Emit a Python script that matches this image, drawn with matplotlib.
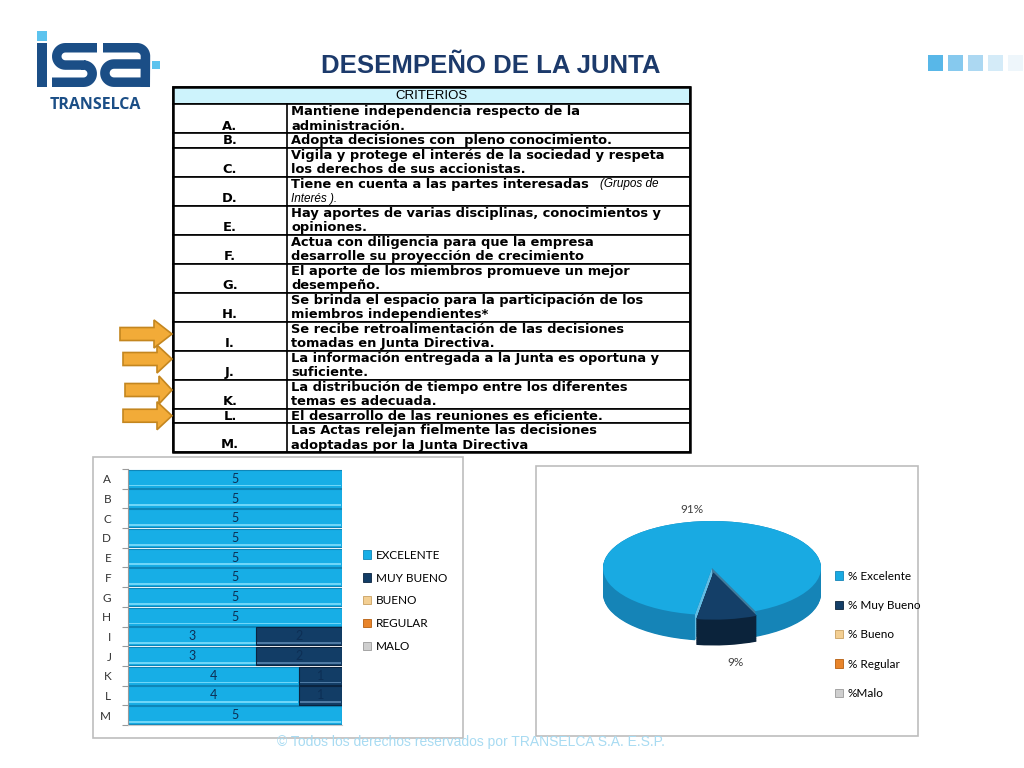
import numpy as np
import matplotlib
matplotlib.use("Agg")
import matplotlib.pyplot as plt
from matplotlib.patches import Rectangle, Polygon, Patch
from matplotlib.lines import Line2D

# ---------------- data ----------------
title = "DESEMPEÑO DE LA JUNTA"
table_header = "CRITERIOS"
row_letters = ["A.", "B.", "C.", "D.", "E.", "F.", "G.", "H.", "I.", "J.", "K.", "L.", "M."]
row_lines = [
    ["Mantiene independencia respecto de la", "administración."],
    ["Adopta decisiones con  pleno conocimiento."],
    ["Vigila y protege el interés de la sociedad y respeta", "los derechos de sus accionistas."],
    ["Tiene en cuenta a las partes interesadas", "Interés )."],
    ["Hay aportes de varias disciplinas, conocimientos y", "opiniones."],
    ["Actua con diligencia para que la empresa", "desarrolle su proyección de crecimiento"],
    ["El aporte de los miembros promueve un mejor", "desempeño."],
    ["Se brinda el espacio para la participación de los", "miembros independientes*"],
    ["Se recibe retroalimentación de las decisiones", "tomadas en Junta Directiva."],
    ["La información entregada a la Junta es oportuna y", "suficiente."],
    ["La distribución de tiempo entre los diferentes", "temas es adecuada."],
    ["El desarrollo de las reuniones es eficiente."],
    ["Las Actas relejan fielmente las decisiones", "adoptadas por la Junta Directiva"],
]
row_d_italic = "(Grupos de"
arrow_rows = ["I.", "J.", "K.", "L."]

categories = ["A", "B", "C", "D", "E", "F", "G", "H", "I", "J", "K", "L", "M"]
excelente = [5, 5, 5, 5, 5, 5, 5, 5, 3, 3, 4, 4, 5]
muy_bueno = [0, 0, 0, 0, 0, 0, 0, 0, 2, 2, 1, 1, 0]
bueno = [0] * 13
regular = [0] * 13
malo = [0] * 13
bar_series_names = ["EXCELENTE", "MUY BUENO", "BUENO", "REGULAR", "MALO"]

pie_labels = ["% Excelente", "% Muy Bueno", "% Bueno", "% Regular", "%Malo"]
pie_values = [91, 9, 0, 0, 0]

footer = "© Todos los derechos reservados por TRANSELCA S.A. E.S.P."

# ---------------- styles ----------------
W, H = 1024, 768
C_EXC = "#17aee6"
C_MB = "#123d66"
C_BUE = "#f3cf93"
C_REG = "#e8842a"
C_MAL = "#cfcfcf"
bar_colors = [C_EXC, C_MB, C_BUE, C_REG, C_MAL]
bar_edges = ["#0e86b8", "#0a2440", "#c9a060", "#b55e10", "#9a9a9a"]
bar_hl = ["#6fd6f8", "#4f7aa3", "#f8e4c0", "#f2b070", "#e8e8e8"]
pie_top = ["#19aae2", "#143f68", C_BUE, C_REG, C_MAL]
pie_side = ["#1584b7", "#0b233b", "#c9a060", "#b55e10", "#9a9a9a"]
NAVY = "#1c3a6b"
LOGO = "#1b4e86"
LOGO_LIGHT = "#5cc3ee"


def px_box(l, t, r, b):
    return [l / W, 1 - b / H, (r - l) / W, (b - t) / H]


fig = plt.figure(figsize=(W / 100, H / 100), dpi=100)
fig.patch.set_facecolor("white")

bg = fig.add_axes([0, 0, 1, 1])
bg.set_xlim(0, W)
bg.set_ylim(H, 0)
bg.axis("off")

# ---------------- logo ----------------
lw_logo = 9.5 * 0.72
bg.add_patch(Rectangle((37, 31), 9.5, 9.5, color=LOGO_LIGHT, lw=0))
bg.add_patch(Rectangle((37, 43), 10, 44, color=LOGO, lw=0))
bg.add_patch(Rectangle((152, 61), 8, 8, color=LOGO_LIGHT, lw=0))


def arc(cx, cy, r, a0, a1, n=20):
    t = np.radians(np.linspace(a0, a1, n))
    return list(zip(cx + r * np.cos(t), cy - r * np.sin(t)))


s_path = [(97, 47.75), (65.4, 47.75)] + arc(65.4, 56.4, 8.65, 90, 270) + [(83.6, 65.05)] \
    + arc(83.6, 73.65, 8.6, 90, -90) + [(52, 82.25)]
a_path1 = [(103, 47.75), (137, 47.75)] + arc(137, 56.2, 8.45, 90, 0) + [(145.25, 87)]
a_path2 = [(145.25, 64.0), (114, 64.0)] + arc(114, 73.1, 9.1, 90, 270) + [(145.25, 82.2)]
for p in (s_path, a_path1, a_path2):
    xs, ys = zip(*p)
    bg.add_line(Line2D(xs, ys, color=LOGO, lw=lw_logo, solid_capstyle="butt", solid_joinstyle="round"))
bg.text(95, 105, "TRANSELCA", ha="center", va="center", fontsize=11.5, fontweight="bold",
        family="Open Sans", color=LOGO)

# ---------------- title ----------------
bg.text(491, 66, title, ha="center", va="center", fontsize=18.5, fontweight="bold",
        family="Liberation Sans", color=NAVY)

# decorative squares top right
sq_cols = ["#58b7e8", "#86c9ee", "#acd8f2", "#d4ebf8", "#eef6fb"]
for i, c in enumerate(sq_cols):
    bg.add_patch(Rectangle((928 + i * 20, 55), 15, 16, color=c, lw=0))

# ---------------- table ----------------
TL, TR, TDIV = 173, 690, 287
top = 87
hdr_h = 17
FS = 9.4
bg.add_patch(Rectangle((TL, top), TR - TL, hdr_h, facecolor="#cdf3fc", edgecolor="black", lw=1.2))
bg.text((TL + TR) / 2, top + hdr_h / 2 + 0.5, table_header, ha="center", va="center",
        fontsize=9.5, family="Liberation Sans", color="black")
y0 = top + hdr_h
row_y = {}
tfont = dict(family="DejaVu Sans", fontweight="bold", fontsize=FS, color="black")
renderer = fig.canvas.get_renderer()
for letter, lines in zip(row_letters, row_lines):
    h = 14.5 * len(lines)
    bg.add_patch(Rectangle((TL, y0), TR - TL, h, facecolor="white", edgecolor="black", lw=1.2))
    bg.plot([TDIV, TDIV], [y0, y0 + h], color="black", lw=1.2)
    for k, ln in enumerate(lines):
        yy = y0 + 7.8 + 14.5 * k
        if letter == "D." and k == 1:
            bg.text(291, yy, ln, ha="left", va="center", fontsize=8.5, style="italic",
                    family="Liberation Sans", color="black")
        else:
            t = bg.text(291, yy, ln, ha="left", va="center", **tfont)
            if letter == "D." and k == 0:
                bb = t.get_window_extent(renderer=renderer)
                bg.text(bb.x1 + 11, yy, row_d_italic, ha="left", va="center", fontsize=8.5,
                        style="italic", family="Liberation Sans", color="black")
    bg.text(230, y0 + h - 7.0, letter, ha="center", va="center", **tfont)
    row_y[letter] = (y0, y0 + h)
    y0 += h
bg.add_patch(Rectangle((TL, top), TR - TL, y0 - top, facecolor="none", edgecolor="black", lw=1.8))

# arrows
arrow_x = {"I.": 120, "J.": 123, "K.": 125, "L.": 123}
arrow_dy = {"I.": -2, "J.": -6, "K.": -4, "L.": 0}
for r in arrow_rows:
    a, b = row_y[r]
    cy = (a + b) / 2 + arrow_dy[r]
    x0 = arrow_x[r]
    pts = [(x0, cy - 6.5), (x0 + 34, cy - 6.5), (x0 + 34, cy - 14), (172, cy),
           (x0 + 34, cy + 14), (x0 + 34, cy + 6.5), (x0, cy + 6.5)]
    bg.add_patch(Polygon(pts, closed=True, facecolor="#f2ab38", edgecolor="#c4861f", lw=1.2))

# chart boxes
bg.add_patch(Rectangle((93, 457), 370, 281, facecolor="white", edgecolor="#bdbdbd", lw=1.2))
bg.add_patch(Rectangle((536, 466), 382, 270, facecolor="white", edgecolor="#bdbdbd", lw=1.2))

# footer
bg.text(471, 742, footer, ha="center", va="center", fontsize=10, family="Liberation Sans",
        color="#a8dbf2")

# ---------------- bar chart ----------------
axb = fig.add_axes(px_box(128, 469, 342, 725))
series = [excelente, muy_bueno, bueno, regular, malo]
yv = np.arange(len(categories))
left = np.zeros(len(categories))
for vals, col, ec, hl in zip(series, bar_colors, bar_edges, bar_hl):
    v = np.array(vals, dtype=float)
    m = v > 0
    if m.any():
        bars = axb.barh(yv[m], v[m], left=left[m], height=0.92, color=col, edgecolor=ec, lw=0.8)
        axb.barh(yv[m] + 0.34, v[m] - 0.04, left=left[m] + 0.02, height=0.09, color=hl, lw=0)
        axb.bar_label(bars, labels=[str(int(x)) for x in v[m]], label_type="center",
                      fontsize=9, family="Lato", color="#0d2f55")
    left = left + v
axb.set_xlim(0, 5)
axb.set_ylim(len(categories) - 0.5, -0.5)
axb.set_yticks(yv)
axb.set_yticklabels(categories, family="Lato", fontsize=8.5, color="#333333")
axb.set_yticks(np.arange(len(categories) + 1) - 0.5, minor=True)
axb.tick_params(axis="y", which="major", length=0, pad=12)
axb.tick_params(axis="y", which="minor", length=4, color="#9a9a9a", width=0.8)
axb.set_xticks([])
for s in ("top", "right"):
    axb.spines[s].set_visible(False)
axb.spines["left"].set_color("#9a9a9a")
axb.spines["bottom"].set_color("#c8c8c8")
axb.patch.set_alpha(0)

handles = [Patch(facecolor=c, edgecolor=e, lw=0.6) for c, e in zip(bar_colors, bar_edges)]
fig.legend(handles, bar_series_names, loc="upper left", bbox_to_anchor=(358 / W, 1 - 545 / H),
           frameon=False, prop=dict(family="Lato", size=8.5), handlelength=0.7, handleheight=0.7,
           handletextpad=0.4, labelspacing=1.0, borderaxespad=0)

# ---------------- pie chart ----------------
CX, CY, RX, RY = 712, 568, 109, 47
xl = (-1.2, 1.2)
yl = (-2.25, 1.45)
axp = fig.add_axes(px_box(CX + xl[0] * RX, CY - yl[1] * RY, CX + xl[1] * RX, CY - yl[0] * RY))
nz = [i for i, v in enumerate(pie_values) if v > 0]
pv = [pie_values[i] for i in nz]
explode = [0.1 if i == 1 else 0 for i in nz]
depth = 0.55
START = -99
layers = np.linspace(depth, 0.0, 40)


def side_layers(mask_idx):
    cols = [pie_side[i] if i in mask_idx else "none" for i in nz]
    for d in layers:
        axp.pie(pv, center=(0, -d), radius=1, startangle=START, counterclock=False,
                explode=explode, colors=cols, wedgeprops=dict(linewidth=0))


# back slices' side
side_layers([0])
# cut faces of the big slice exposed by the exploded slice
total = float(sum(pv))
a_left = np.radians(START)
a_right = np.radians(START + 360.0 * pv[-1] / total) if len(pv) > 1 else a_left
for ang, col in ((a_left, "#62bde4"), (a_right, "#3f7c9e")):
    cx_, cy_ = np.cos(ang), np.sin(ang)
    axp.add_patch(Polygon([(0, 0), (cx_, cy_), (cx_, cy_ - depth), (0, -depth)], closed=True,
                          facecolor=col, lw=0))
# exploded slice side
side_layers([i for i in nz if i != 0])
axp.pie(pv, center=(0, 0), radius=1, startangle=START, counterclock=False, explode=explode,
        colors=[pie_top[i] for i in nz], wedgeprops=dict(linewidth=0))
axp.set_aspect("auto")
axp.set_xlim(*xl)
axp.set_ylim(*yl)
axp.axis("off")
lab_pos = {0: (-0.18, 1.24), 1: (0.22, -2.0)}
for i in nz:
    x, y = lab_pos[i]
    axp.text(x, y, f"{pie_values[i]}%", ha="center", va="center", fontsize=8.5, family="Lato",
             color="#404040")

ph = [Patch(facecolor=c, edgecolor=e, lw=0.6) for c, e in zip(pie_top, pie_side)]
fig.legend(ph, pie_labels, loc="upper left", bbox_to_anchor=(830 / W, 1 - 566 / H),
           frameon=False, prop=dict(family="Lato", size=8.5), handlelength=0.7, handleheight=0.7,
           handletextpad=0.4, labelspacing=1.55, borderaxespad=0)

fig.savefig("out.png", dpi=100, facecolor="white")
